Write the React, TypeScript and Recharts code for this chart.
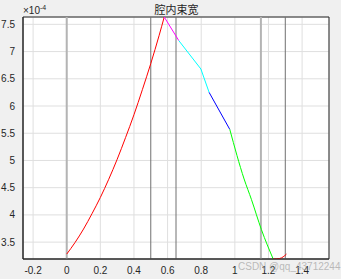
import React from "react";
import {
  LineChart,
  Line,
  XAxis,
  YAxis,
  CartesianGrid,
  ReferenceLine,
  ReferenceArea,
} from "recharts";

// y values in units of 1e-4 (scaled below)
const redRise = [
  { x: 0, y: 3.28 },
  { x: 0.05, y: 3.495 },
  { x: 0.1, y: 3.74 },
  { x: 0.15, y: 4.02 },
  { x: 0.2, y: 4.32 },
  { x: 0.25, y: 4.655 },
  { x: 0.3, y: 5.02 },
  { x: 0.35, y: 5.42 },
  { x: 0.4, y: 5.84 },
  { x: 0.45, y: 6.3 },
  { x: 0.5, y: 6.78 },
  { x: 0.55, y: 7.3 },
  { x: 0.58, y: 7.635 },
];
const magentaSeg = [
  { x: 0.58, y: 7.635 },
  { x: 0.667, y: 7.2 },
];
const cyanSeg = [
  { x: 0.667, y: 7.2 },
  { x: 0.798, y: 6.68 },
  { x: 0.847, y: 6.25 },
];
const blueSeg = [
  { x: 0.847, y: 6.25 },
  { x: 0.97, y: 5.57 },
];
const greenSeg = [
  { x: 0.97, y: 5.57 },
  { x: 1.055, y: 4.66 },
  { x: 1.099, y: 4.28 },
  { x: 1.158, y: 3.73 },
  { x: 1.228, y: 3.19 },
];
const redTail = [
  { x: 1.228, y: 3.19 },
  { x: 1.267, y: 3.2 },
  { x: 1.307, y: 3.28 },
];

const markers = [0, 0.5, 0.65, 1.155, 1.3];
const xTicks = [-0.2, 0, 0.2, 0.4, 0.6, 0.8, 1, 1.2, 1.4];
const yTicks = [3.5, 4, 4.5, 5, 5.5, 6, 6.5, 7, 7.5];

const scale = (pts: { x: number; y: number }[]) =>
  pts.map((p) => ({ x: p.x, y: p.y * 1e-4 }));

const font = "'Liberation Sans', Arial, sans-serif";
const tickStyle = { fontSize: 10, fill: "#262626", fontFamily: font };

const series = [
  { key: "r1", data: redRise, color: "#ff0000", curve: "monotone" },
  { key: "m", data: magentaSeg, color: "#ff00ff", curve: "linear" },
  { key: "c", data: cyanSeg, color: "#00ffff", curve: "linear" },
  { key: "b", data: blueSeg, color: "#0000ff", curve: "linear" },
  { key: "g", data: greenSeg, color: "#00ff00", curve: "monotone" },
  { key: "r2", data: redTail, color: "#ff0000", curve: "monotone" },
];

export default function App() {
  return (
    <div
      style={{
        position: "fixed",
        left: 0,
        top: 0,
        width: 341,
        height: 279,
        background: "#f0f0f0",
      }}
    >
      <LineChart
        width={341}
        height={279}
        margin={{ top: 17, right: 12, bottom: 0, left: 0 }}
      >
        <CartesianGrid stroke="#dfdfdf" fill="#ffffff" />
        <XAxis
          type="number"
          dataKey="x"
          domain={[-0.26, 1.56]}
          ticks={xTicks}
          allowDataOverflow
          height={20}
          tick={tickStyle}
          tickLine={false}
          stroke="#262626"
          tickFormatter={(v: number) => String(Math.round(v * 10) / 10)}
        />
        <YAxis
          type="number"
          dataKey="y"
          domain={[3.19e-4, 7.635e-4]}
          ticks={yTicks.map((t) => t * 1e-4)}
          allowDataOverflow
          width={23}
          tick={tickStyle}
          tickLine={false}
          stroke="#262626"
          tickFormatter={(v: number) => String(Math.round(v * 1e5) / 10)}
        />
        {markers.map((m) => (
          <ReferenceLine
            key={m}
            x={m}
            stroke={m === 0 || m === 1.155 ? "#b4b4b4" : "#707070"}
            strokeWidth={m === 0 || m === 1.155 ? 2 : 1}
          />
        ))}
        {series.map((s) => (
          <Line
            key={s.key}
            data={scale(s.data)}
            dataKey="y"
            type={s.curve as any}
            stroke={s.color}
            strokeWidth={1}
            dot={false}
            isAnimationActive={false}
          />
        ))}
        <ReferenceArea
          x1={-0.26}
          x2={1.56}
          y1={3.19e-4}
          y2={7.635e-4}
          fill="none"
          stroke="#262626"
          strokeWidth={1}
        />
      </LineChart>
      <div
        style={{
          position: "absolute",
          left: 0,
          width: 341,
          top: 1,
          textAlign: "center",
          paddingLeft: 12,
          boxSizing: "border-box",
          fontFamily: "'Noto Sans CJK SC', sans-serif",
          fontSize: 11,
          color: "#262626",
        }}
      >
        腔内束宽
      </div>
      <div
        style={{
          position: "absolute",
          left: 23,
          top: 4,
          fontFamily: font,
          fontSize: 10,
          color: "#262626",
        }}
      >
        ×10<sup style={{ fontSize: 7, verticalAlign: 4 }}>-4</sup>
      </div>
      <div
        style={{
          position: "absolute",
          left: 238,
          top: 261,
          whiteSpace: "nowrap",
          fontFamily: font,
          fontSize: 10,
          color: "rgba(160,160,160,0.7)",
        }}
      >
        CSDN @qq_43712244
      </div>
    </div>
  );
}
